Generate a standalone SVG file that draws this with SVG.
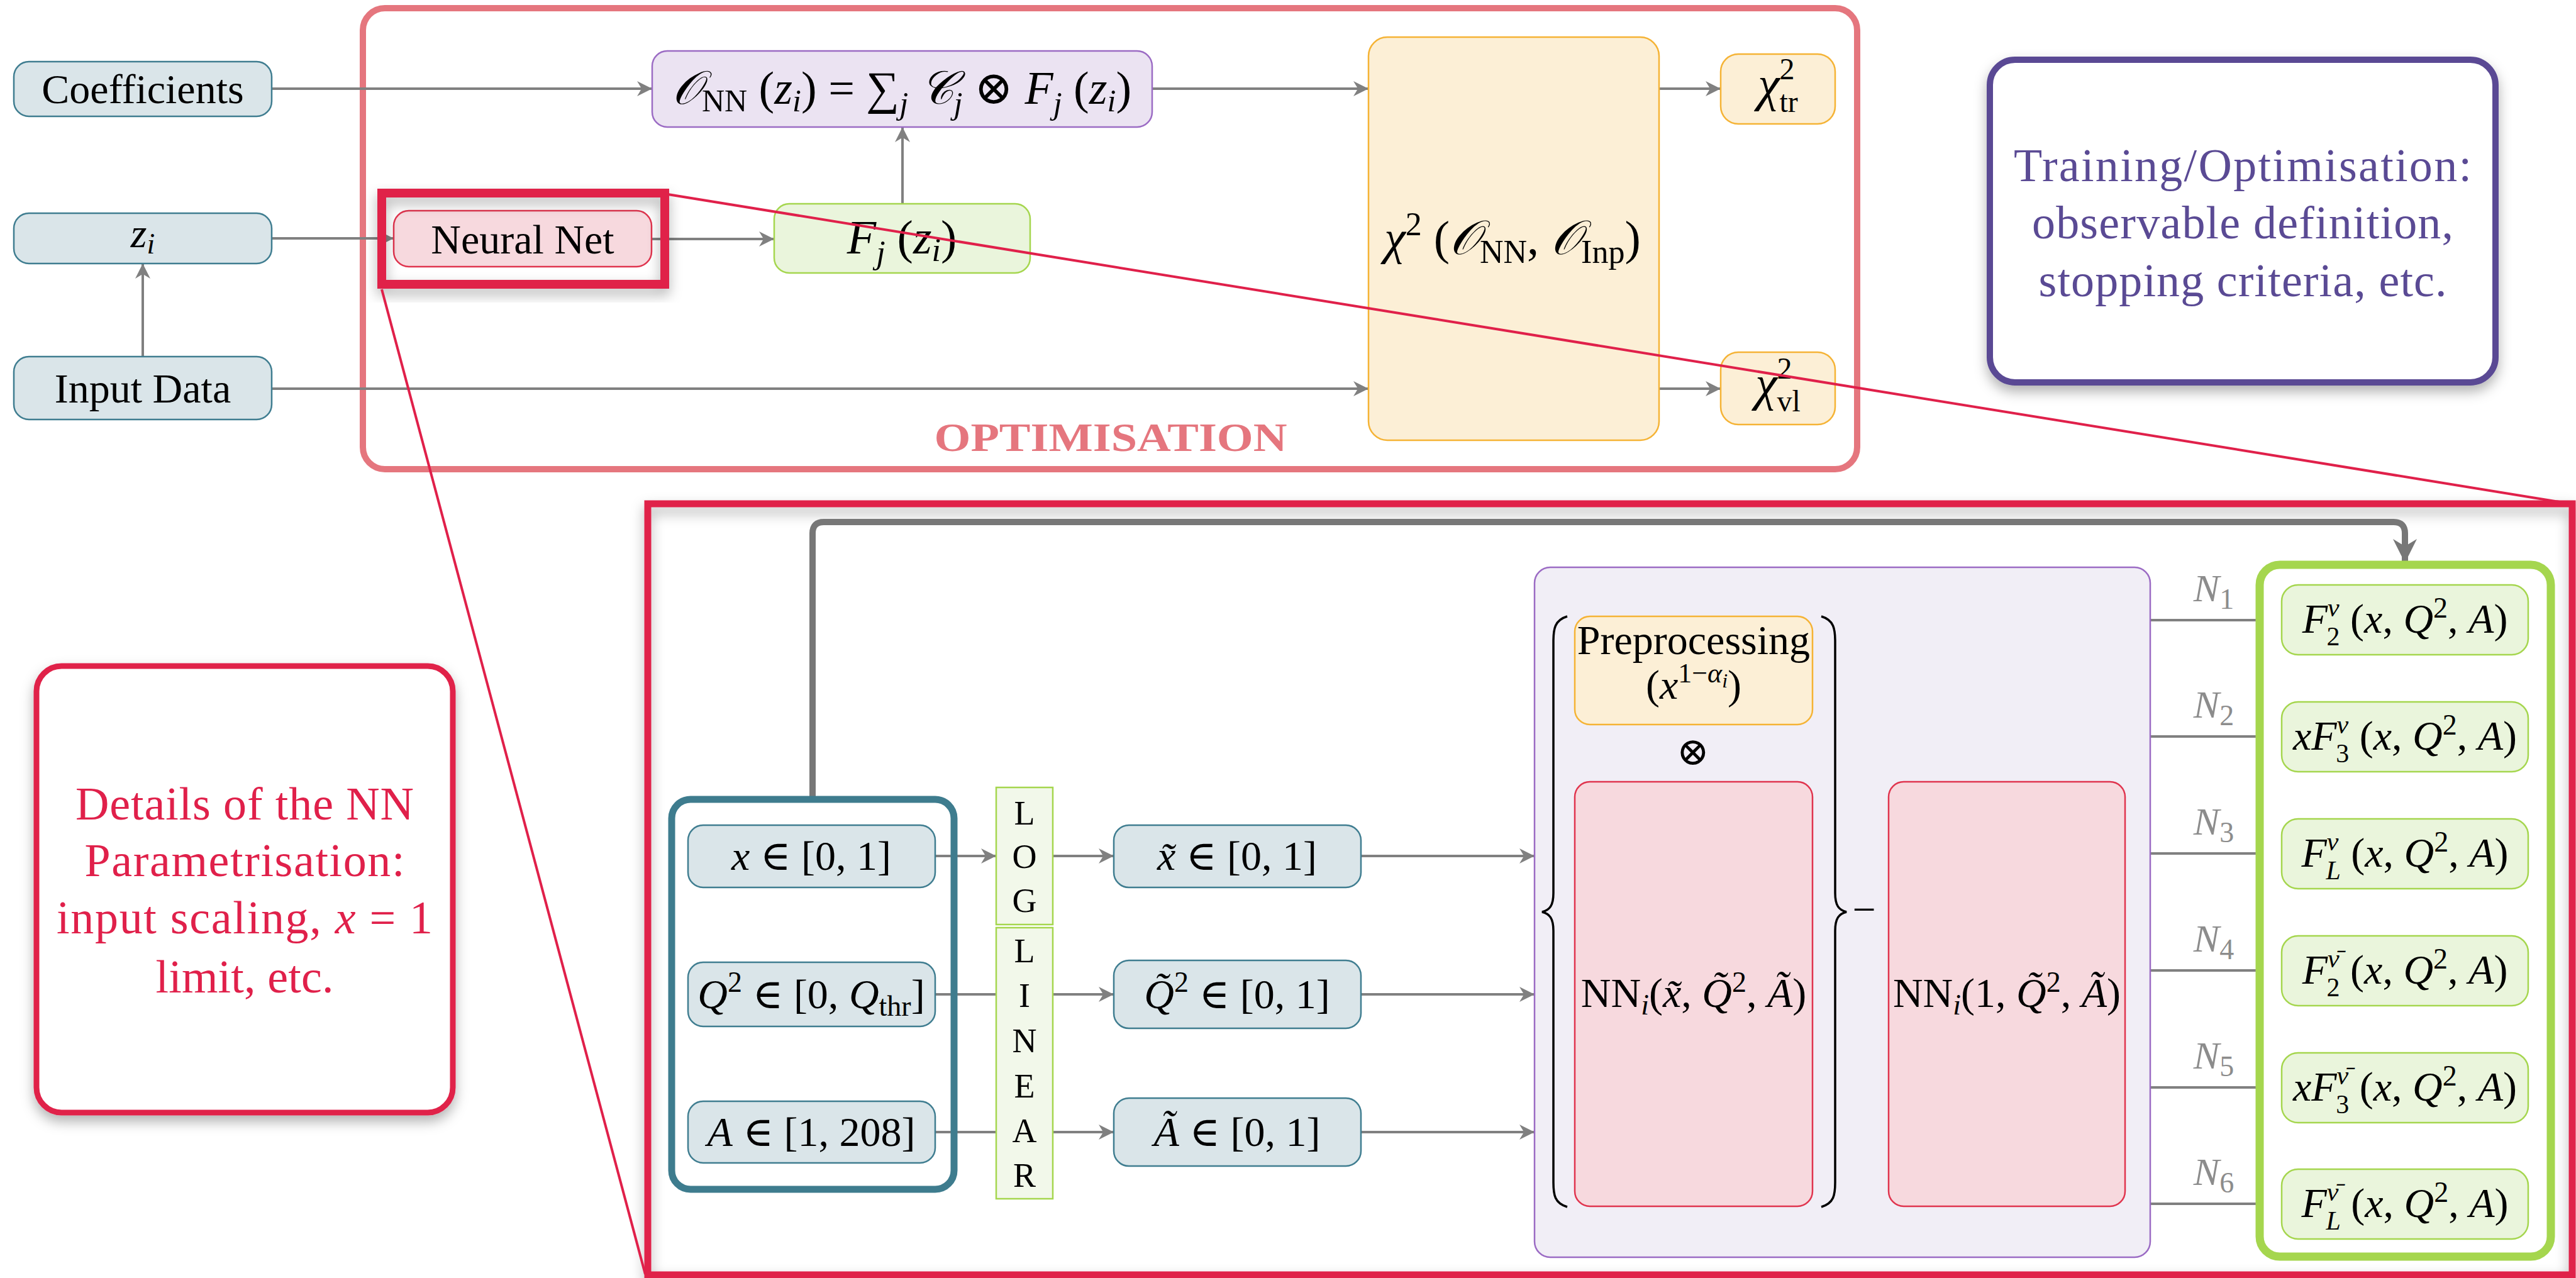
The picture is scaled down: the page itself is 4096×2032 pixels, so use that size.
<svg xmlns="http://www.w3.org/2000/svg" width="4096" height="2032" viewBox="0 0 4096 2032">
<defs>
<style>
.t{font-family:"Liberation Serif","DejaVu Serif",serif;font-size:66px;fill:#000;text-anchor:middle}
.it{font-style:italic}
.s{font-size:46px}
.ss{font-size:42px}
.conn{stroke:#808080;stroke-width:4;fill:none}
.teal{fill:#dae5e9;stroke:#3f7d90;stroke-width:2.5}
.pink{fill:#f7d9de;stroke:#e0344e;stroke-width:2.5}
.lav{fill:#ebe3f2;stroke:#9b6bc4;stroke-width:2.5}
.grn{fill:#eaf5dc;stroke:#a5d64e;stroke-width:2.5}
.org{fill:#fcefd6;stroke:#f5b335;stroke-width:2.5}
.nl{font-family:"Liberation Serif","DejaVu Serif",serif;font-size:62px;fill:#8c8c8c;text-anchor:middle;font-style:italic}
.lt{font-family:"Liberation Serif","DejaVu Serif",serif;font-size:54px;fill:#000;text-anchor:middle}
</style>
<marker id="ah" viewBox="0 0 10 10" refX="10" refY="5" markerWidth="24" markerHeight="24" markerUnits="userSpaceOnUse" orient="auto">
<path d="M0,0 L10,5 L0,10 L3,5 z" fill="#808080"/>
</marker>
<marker id="ahb" viewBox="0 0 10 10" refX="10" refY="5" markerWidth="38" markerHeight="38" markerUnits="userSpaceOnUse" orient="auto">
<path d="M0,0 L10,5 L0,10 L3,5 z" fill="#777"/>
</marker>
<filter id="sh" x="-10%" y="-10%" width="120%" height="130%">
<feDropShadow dx="0" dy="10" stdDeviation="10" flood-color="#000" flood-opacity="0.3"/>
</filter>
</defs>
<rect width="4096" height="2032" fill="#fff"/>

<!-- Optimisation frame -->
<g id="optimisation">
<rect x="577" y="13" width="2376" height="733" rx="35" fill="none" stroke="#e5767e" stroke-width="10"/>
<text x="1766" y="717" font-family="Liberation Serif, serif" font-weight="bold" font-size="64" fill="#e5767e" text-anchor="middle" textLength="561" lengthAdjust="spacingAndGlyphs">OPTIMISATION</text>
</g>

<!-- connectors (top) -->
<g id="connectors-top">
<line class="conn" x1="432" y1="141" x2="1037" y2="141" marker-end="url(#ah)"/>
<line class="conn" x1="432" y1="379" x2="626" y2="379" marker-end="url(#ah)"/>
<line class="conn" x1="227" y1="567" x2="227" y2="419" marker-end="url(#ah)"/>
<line class="conn" x1="1036" y1="380" x2="1231" y2="380" marker-end="url(#ah)"/>
<line class="conn" x1="1435" y1="324" x2="1435" y2="202" marker-end="url(#ah)"/>
<line class="conn" x1="1832" y1="141" x2="2176" y2="141" marker-end="url(#ah)"/>
<line class="conn" x1="432" y1="618" x2="2176" y2="618" marker-end="url(#ah)"/>
<line class="conn" x1="2638" y1="141" x2="2736" y2="141" marker-end="url(#ah)"/>
<line class="conn" x1="2638" y1="618" x2="2736" y2="618" marker-end="url(#ah)"/>
</g>

<g id="coefficients">
<rect class="teal" x="22" y="98" width="410" height="87" rx="24"/>
<text class="t" x="227" y="164">Coefficients</text>
</g>
<g id="zi">
<rect class="teal" x="22" y="339" width="410" height="80" rx="24"/>
<text class="t" x="227" y="393"><tspan class="it">z</tspan><tspan class="it s" dy="10">i</tspan></text>
</g>
<g id="input-data">
<rect class="teal" x="22" y="567" width="410" height="100" rx="24"/>
<text class="t" x="227" y="640">Input Data</text>
</g>
<g id="neural-net">
<rect class="pink" x="626" y="335" width="410" height="89" rx="24"/>
<text class="t" x="831" y="403">Neural Net</text>
</g>
<g id="onn">
<rect class="lav" x="1037" y="81" width="795" height="121" rx="24"/>
<text class="t" x="1434" y="165" style="font-size:74px"><tspan class="it">𝒪</tspan><tspan font-size="50" dy="12">NN</tspan><tspan dy="-12"> (</tspan><tspan class="it">z</tspan><tspan class="it" font-size="50" dy="12">i</tspan><tspan dy="-12">) = ∑</tspan><tspan class="it" font-size="50" dy="16">j</tspan><tspan class="it" dy="-16"> 𝒞</tspan><tspan class="it" font-size="50" dy="16">j</tspan><tspan dy="-16"> ⊗ </tspan><tspan class="it">F</tspan><tspan class="it" font-size="50" dy="16">j</tspan><tspan dy="-16"> (</tspan><tspan class="it">z</tspan><tspan class="it" font-size="50" dy="12">i</tspan><tspan dy="-12">)</tspan></text>
</g>
<g id="fj">
<rect class="grn" x="1231" y="324" width="407" height="110" rx="24"/>
<text class="t" x="1434" y="403" style="font-size:76px"><tspan class="it">F</tspan><tspan class="it" font-size="52" dy="16">j</tspan><tspan dy="-16"> (</tspan><tspan class="it">z</tspan><tspan class="it" font-size="52" dy="12">i</tspan><tspan dy="-12">)</tspan></text>
</g>
<g id="chi2">
<rect class="org" x="2176" y="59" width="462" height="641" rx="30"/>
<text class="t" x="2405" y="404" style="font-size:76px"><tspan class="it">χ</tspan><tspan font-size="52" dy="-30">2</tspan><tspan dy="30"> (</tspan><tspan class="it">𝒪</tspan><tspan font-size="52" dy="14">NN</tspan><tspan dy="-14">, </tspan><tspan class="it">𝒪</tspan><tspan font-size="52" dy="14">Inp</tspan><tspan dy="-14">)</tspan></text>
</g>
<g id="chi2-tr">
<rect class="org" x="2736" y="86" width="182" height="111" rx="28"/>
<text class="t" x="2827" y="160" style="font-size:78px"><tspan class="it">χ</tspan><tspan font-size="48" dy="-34">2</tspan><tspan font-size="48" dx="-24" dy="52">tr</tspan></text>
</g>
<g id="chi2-vl">
<rect class="org" x="2736" y="560" width="182" height="115" rx="28"/>
<text class="t" x="2827" y="636" style="font-size:78px"><tspan class="it">χ</tspan><tspan font-size="48" dy="-34">2</tspan><tspan font-size="48" dx="-24" dy="52">vl</tspan></text>
</g>

<!-- Training box -->
<g id="training">
<rect x="3164" y="95" width="804" height="513" rx="40" fill="#fff" stroke="#5a4a94" stroke-width="10" filter="url(#sh)"/>
<g font-family="Liberation Serif, serif" font-size="74" fill="#5a4a94" text-anchor="middle">
<text x="3566" y="288" textLength="728">Training/Optimisation:</text>
<text x="3566" y="379" textLength="670">observable definition,</text>
<text x="3566" y="471" textLength="649">stopping criteria, etc.</text>
</g>
</g>

<!-- Details box -->
<g id="details">
<rect x="58" y="1059" width="662" height="710" rx="40" fill="#fff" stroke="#e0204a" stroke-width="9" filter="url(#sh)"/>
<g font-family="Liberation Serif, serif" font-size="74" fill="#e0204a" text-anchor="middle">
<text x="389" y="1303" textLength="538">Details of the NN</text>
<text x="389" y="1393" textLength="509">Parametrisation:</text>
<text x="389" y="1484" textLength="598">input scaling, <tspan font-style="italic">x</tspan> = 1</text>
<text x="389" y="1578" textLength="283">limit, etc.</text>
</g>
</g>

<!-- zoom frame -->
<g id="zoom-frame">
<rect x="607" y="307" width="450" height="145" fill="none" stroke="#e0204a" stroke-width="14" filter="url(#sh)"/>
<rect x="1030" y="801" width="3060" height="1226" fill="none" stroke="#e0204a" stroke-width="11" filter="url(#sh)"/>
<line x1="1062" y1="309" x2="4088" y2="801" stroke="#e0204a" stroke-width="4"/>
<line x1="607" y1="460" x2="1026" y2="2026" stroke="#e0204a" stroke-width="4"/>
</g>

<!-- bottom connectors -->
<g id="connectors-bottom">
<path d="M1292 1271 V848 Q1292 830 1310 830 H3806 Q3824 830 3824 848 V895" fill="none" stroke="#777" stroke-width="10" marker-end="url(#ahb)"/>
<line class="conn" x1="1487" y1="1361" x2="1584" y2="1361" marker-end="url(#ah)"/>
<line class="conn" x1="1487" y1="1581" x2="1584" y2="1581"/>
<line class="conn" x1="1487" y1="1800" x2="1584" y2="1800"/>
<line class="conn" x1="1674" y1="1361" x2="1771" y2="1361" marker-end="url(#ah)"/>
<line class="conn" x1="1674" y1="1581" x2="1771" y2="1581" marker-end="url(#ah)"/>
<line class="conn" x1="1674" y1="1800" x2="1771" y2="1800" marker-end="url(#ah)"/>
<line class="conn" x1="2164" y1="1361" x2="2440" y2="1361" marker-end="url(#ah)"/>
<line class="conn" x1="2164" y1="1581" x2="2440" y2="1581" marker-end="url(#ah)"/>
<line class="conn" x1="2164" y1="1800" x2="2440" y2="1800" marker-end="url(#ah)"/>
<line class="conn" x1="3419" y1="986" x2="3626" y2="986" marker-end="url(#ah)"/>
<line class="conn" x1="3419" y1="1171" x2="3626" y2="1171" marker-end="url(#ah)"/>
<line class="conn" x1="3419" y1="1357" x2="3626" y2="1357" marker-end="url(#ah)"/>
<line class="conn" x1="3419" y1="1543" x2="3626" y2="1543" marker-end="url(#ah)"/>
<line class="conn" x1="3419" y1="1729" x2="3626" y2="1729" marker-end="url(#ah)"/>
<line class="conn" x1="3419" y1="1914" x2="3626" y2="1914" marker-end="url(#ah)"/>
<text class="nl" x="3520" y="956">N<tspan class="s" font-style="normal" dy="12">1</tspan></text>
<text class="nl" x="3520" y="1141">N<tspan class="s" font-style="normal" dy="12">2</tspan></text>
<text class="nl" x="3520" y="1327">N<tspan class="s" font-style="normal" dy="12">3</tspan></text>
<text class="nl" x="3520" y="1513">N<tspan class="s" font-style="normal" dy="12">4</tspan></text>
<text class="nl" x="3520" y="1699">N<tspan class="s" font-style="normal" dy="12">5</tspan></text>
<text class="nl" x="3520" y="1884">N<tspan class="s" font-style="normal" dy="12">6</tspan></text>
</g>

<!-- input group -->
<g id="input-group">
<rect x="1068" y="1271" width="449" height="620" rx="30" fill="none" stroke="#3e7c8e" stroke-width="11"/>
</g>
<g id="in-x">
<rect class="teal" x="1094" y="1312" width="393" height="99" rx="24"/>
<text class="t" x="1290" y="1383"><tspan class="it">x</tspan> ∈ [0, 1]</text>
</g>
<g id="in-q">
<rect class="teal" x="1094" y="1530" width="393" height="102" rx="24"/>
<text class="t" x="1290" y="1603"><tspan class="it">Q</tspan><tspan class="s" dy="-26">2</tspan><tspan dy="26"> ∈ [0, </tspan><tspan class="it">Q</tspan><tspan class="s" dy="12">thr</tspan><tspan dy="-12">]</tspan></text>
</g>
<g id="in-a">
<rect class="teal" x="1094" y="1751" width="393" height="98" rx="24"/>
<text class="t" x="1290" y="1822"><tspan class="it">A</tspan> ∈ [1, 208]</text>
</g>

<g id="log">
<rect x="1584" y="1252" width="90" height="218" fill="#f2f8ea" stroke="#a5d64e" stroke-width="2.5"/>
<text class="lt" x="1629" y="1311">L</text>
<text class="lt" x="1629" y="1380">O</text>
<text class="lt" x="1629" y="1450">G</text>
</g>
<g id="linear">
<rect x="1584" y="1475" width="90" height="431" fill="#f2f8ea" stroke="#a5d64e" stroke-width="2.5"/>
<text class="lt" x="1629" y="1530">L</text>
<text class="lt" x="1629" y="1601">I</text>
<text class="lt" x="1629" y="1673">N</text>
<text class="lt" x="1629" y="1745">E</text>
<text class="lt" x="1629" y="1816">A</text>
<text class="lt" x="1629" y="1887">R</text>
</g>

<g id="out-x">
<rect class="teal" x="1771" y="1312" width="393" height="99" rx="24"/>
<text class="t" x="1967" y="1383"><tspan class="it">x̃</tspan> ∈ [0, 1]</text>
</g>
<g id="out-q">
<rect class="teal" x="1771" y="1527" width="393" height="108" rx="24"/>
<text class="t" x="1967" y="1603"><tspan class="it">Q̃</tspan><tspan class="s" dy="-26">2</tspan><tspan dy="26"> ∈ [0, 1]</tspan></text>
</g>
<g id="out-a">
<rect class="teal" x="1771" y="1746" width="393" height="108" rx="24"/>
<text class="t" x="1967" y="1822"><tspan class="it">Ã</tspan> ∈ [0, 1]</text>
</g>

<!-- NN block -->
<g id="nn-block">
<rect x="2440" y="902" width="979" height="1097" rx="25" fill="#f1eef6" stroke="#9b6bc4" stroke-width="2.5"/>
<path d="M2492 980 C2472 986 2470 1000 2470 1020 L2470 1420 C2470 1440 2464 1447 2452 1450 C2464 1453 2470 1460 2470 1480 L2470 1880 C2470 1900 2472 1913 2492 1919" fill="none" stroke="#000" stroke-width="3.5"/>
<path d="M2896 980 C2916 986 2918 1000 2918 1020 L2918 1420 C2918 1440 2924 1447 2936 1450 C2924 1453 2918 1460 2918 1480 L2918 1880 C2918 1900 2916 1913 2896 1919" fill="none" stroke="#000" stroke-width="3.5"/>
<text class="t" x="2964" y="1468">−</text>
<text class="t" x="2692" y="1216" style="font-size:62px">⊗</text>
</g>
<g id="preprocessing">
<rect class="org" x="2504" y="980" width="378" height="172" rx="24"/>
<text class="t" x="2693" y="1040">Preprocessing</text>
<text class="t" x="2693" y="1111">(<tspan class="it">x</tspan><tspan font-size="44" dy="-26">1−</tspan><tspan class="it" font-size="44">α</tspan><tspan class="it" font-size="32" dy="8">i</tspan><tspan dy="18">)</tspan></text>
</g>
<g id="nn-x">
<rect class="pink" x="2504" y="1243" width="378" height="675" rx="24"/>
<text class="t" x="2693" y="1601">NN<tspan class="it s" dy="12">i</tspan><tspan dy="-12">(</tspan><tspan class="it">x̃</tspan>, <tspan class="it">Q̃</tspan><tspan class="s" dy="-24">2</tspan><tspan dy="24">, </tspan><tspan class="it">Ã</tspan>)</text>
</g>
<g id="nn-1">
<rect class="pink" x="3003" y="1243" width="376" height="675" rx="24"/>
<text class="t" x="3191" y="1601">NN<tspan class="it s" dy="12">i</tspan><tspan dy="-12">(1, </tspan><tspan class="it">Q̃</tspan><tspan class="s" dy="-24">2</tspan><tspan dy="24">, </tspan><tspan class="it">Ã</tspan>)</text>
</g>

<!-- output group -->
<g id="output-group">
<rect x="3593" y="898" width="463" height="1100" rx="32" fill="#fff" stroke="#a5d64e" stroke-width="13"/>
</g>
<g id="f2nu">
<rect class="grn" x="3628" y="930" width="392" height="111" rx="26"/>
<text class="t" x="3824" y="1006"><tspan class="it">F</tspan><tspan class="it ss" dy="-26">ν</tspan><tspan class="ss" dx="-20" dy="46">2</tspan><tspan dy="-20"> (</tspan><tspan class="it">x</tspan>, <tspan class="it">Q</tspan><tspan class="s" dy="-24">2</tspan><tspan dy="24">, </tspan><tspan class="it">A</tspan>)</text>
</g>
<g id="xf3nu">
<rect class="grn" x="3628" y="1116" width="392" height="111" rx="26"/>
<text class="t" x="3824" y="1192"><tspan class="it">xF</tspan><tspan class="it ss" dy="-26">ν</tspan><tspan class="ss" dx="-20" dy="46">3</tspan><tspan dy="-20"> (</tspan><tspan class="it">x</tspan>, <tspan class="it">Q</tspan><tspan class="s" dy="-24">2</tspan><tspan dy="24">, </tspan><tspan class="it">A</tspan>)</text>
</g>
<g id="flnu">
<rect class="grn" x="3628" y="1302" width="392" height="111" rx="26"/>
<text class="t" x="3824" y="1378"><tspan class="it">F</tspan><tspan class="it ss" dy="-26">ν</tspan><tspan class="it ss" dx="-20" dy="46">L</tspan><tspan dy="-20"> (</tspan><tspan class="it">x</tspan>, <tspan class="it">Q</tspan><tspan class="s" dy="-24">2</tspan><tspan dy="24">, </tspan><tspan class="it">A</tspan>)</text>
</g>
<g id="f2nubar">
<rect class="grn" x="3628" y="1488" width="392" height="111" rx="26"/>
<text class="t" x="3824" y="1564"><tspan class="it">F</tspan><tspan class="it ss" dy="-26">ν̄</tspan><tspan class="ss" dx="-20" dy="46">2</tspan><tspan dy="-20"> (</tspan><tspan class="it">x</tspan>, <tspan class="it">Q</tspan><tspan class="s" dy="-24">2</tspan><tspan dy="24">, </tspan><tspan class="it">A</tspan>)</text>
</g>
<g id="xf3nubar">
<rect class="grn" x="3628" y="1674" width="392" height="111" rx="26"/>
<text class="t" x="3824" y="1750"><tspan class="it">xF</tspan><tspan class="it ss" dy="-26">ν̄</tspan><tspan class="ss" dx="-20" dy="46">3</tspan><tspan dy="-20"> (</tspan><tspan class="it">x</tspan>, <tspan class="it">Q</tspan><tspan class="s" dy="-24">2</tspan><tspan dy="24">, </tspan><tspan class="it">A</tspan>)</text>
</g>
<g id="flnubar">
<rect class="grn" x="3628" y="1859" width="392" height="111" rx="26"/>
<text class="t" x="3824" y="1935"><tspan class="it">F</tspan><tspan class="it ss" dy="-26">ν̄</tspan><tspan class="it ss" dx="-20" dy="46">L</tspan><tspan dy="-20"> (</tspan><tspan class="it">x</tspan>, <tspan class="it">Q</tspan><tspan class="s" dy="-24">2</tspan><tspan dy="24">, </tspan><tspan class="it">A</tspan>)</text>
</g>
</svg>
